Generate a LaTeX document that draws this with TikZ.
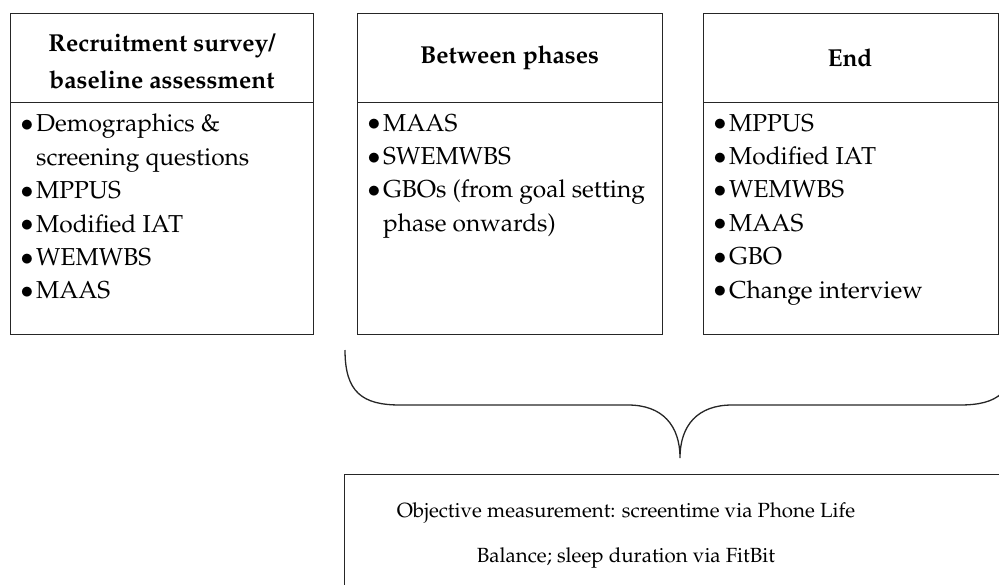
\documentclass[tikz,border=0pt]{standalone}
\usepackage[T1]{fontenc}
\usepackage{mathpazo}
\begin{document}
\begin{tikzpicture}[x=1pt,y=-1pt,
  frame/.style={draw=black!85, line width=1.3pt, inner sep=0pt, anchor=north west},
  hdr/.style={font=\fontsize{24.5}{37}\selectfont\bfseries, align=center, inner sep=0pt},
  lst/.style={font=\fontsize{24.5}{33.4}\selectfont, align=left, anchor=north west, inner sep=0pt},
  bot/.style={font=\fontsize{20.5}{45}\selectfont, align=center, inner sep=0pt},
  brace/.style={draw=black!85, line width=1.3pt}]
\useasboundingbox (0,0) rectangle (999,584);
\clip (0,0) rectangle (999,584);
\newcommand{\itm}[1]{\makebox[16pt][l]{\raisebox{0.5pt}{$\bullet$}}#1}
\newcommand{\cnt}[1]{\hspace*{16pt}#1}
% box 1
\node[frame, minimum width=303, minimum height=89] (h1) at (10,13) {};
\node[frame, minimum width=303, minimum height=232] (b1) at (10,102) {};
\node[hdr] (t1) at (162,61) {Recruitment survey/\\baseline assessment};
\node[lst] (l1) at (20,114) {\itm{Demographics \&}\\\cnt{screening questions}\\\itm{MPPUS}\\\itm{Modified IAT}\\\itm{WEMWBS}\\\itm{MAAS}};
% box 2
\node[frame, minimum width=305, minimum height=89] (h2) at (357,13) {};
\node[frame, minimum width=305, minimum height=232] (b2) at (357,102) {};
\node[hdr] (t2) at (509.5,58) {Between phases};
\node[lst] (l2) at (367,114) {\itm{MAAS}\\\itm{SWEMWBS}\\\itm{GBOs (from goal setting}\\\cnt{phase onwards)}};
% box 3
\node[frame, minimum width=295, minimum height=89] (h3) at (703,13) {};
\node[frame, minimum width=295, minimum height=232] (b3) at (703,102) {};
\node[hdr] (t3) at (850,58) {End};
\node[lst] (l3) at (713,114) {\itm{MPPUS}\\\itm{Modified IAT}\\\itm{WEMWBS}\\\itm{MAAS}\\\itm{GBO}\\\itm{Change interview}};
% brace
\coordinate (bl) at (345,350);
\coordinate (tip) at (680,458);
\coordinate (br) at (1015,350);
\draw[brace] (bl) .. controls (345,392) and (362,405) .. (400,405) -- (628,405)
  .. controls (662,405) and (680,425) .. (tip)
  .. controls (680,425) and (698,405) .. (732,405) -- (960,405)
  .. controls (998,405) and (1015,392) .. (br);
% bottom box
\node[frame, minimum width=700, minimum height=160] (bb) at (344,474) {};
\node[bot] (bt) at (626,535) {Objective measurement: screentime via Phone Life\\Balance; sleep duration via FitBit};
\end{tikzpicture}
\end{document}
